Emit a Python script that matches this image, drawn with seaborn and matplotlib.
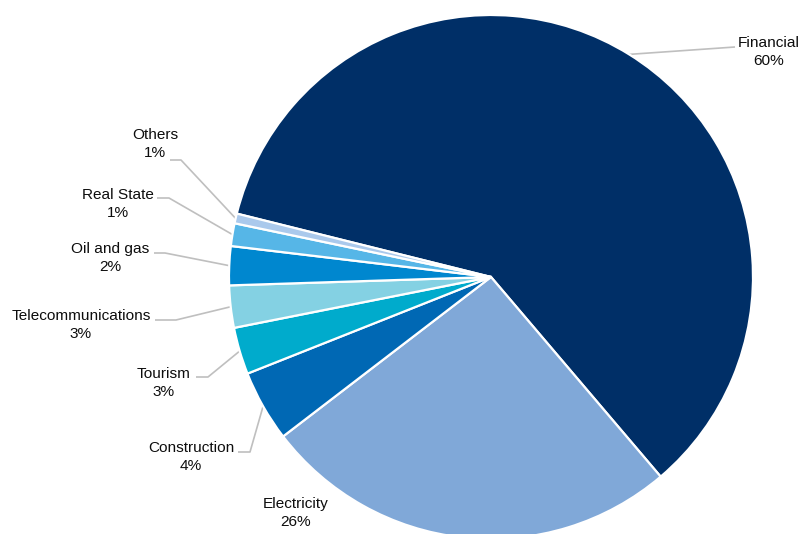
import matplotlib
matplotlib.use("Agg")
import matplotlib.pyplot as plt
import numpy as np
import seaborn as sns

# Sector shares (%)
sectors = ["Financial", "Electricity", "Construction", "Tourism",
           "Telecommunications", "Oil and gas", "Real State", "Others"]
shares = [59.9, 25.8, 4.4, 2.9, 2.6, 2.4, 1.4, 0.6]
colors = ["#002F67", "#80A8D8", "#0068B4", "#00ABCC",
          "#84D1E3", "#0087CF", "#56B6E7", "#AAC9EC"]

sns.set_theme(style="white")
plt.rcParams["font.family"] = ["Liberation Sans", "DejaVu Sans"]

W, H = 801, 534
CX, CY, R = 491, 277, 262  # pie centre and radius in pixels


def to_data(px, py):
    return (px - CX) / R, (CY - py) / R


fig = plt.figure(figsize=(W / 100, H / 100), dpi=100)
ax = fig.add_axes([0, 0, 1, 1])

wedges, _ = ax.pie(shares, colors=colors, startangle=166, counterclock=False,
                   radius=1, center=(0, 0),
                   wedgeprops=dict(edgecolor="white", linewidth=1.6))

ax.set_xlim(to_data(0, 0)[0], to_data(W, 0)[0])
ax.set_ylim(to_data(0, H)[1], to_data(0, 0)[1])
ax.set_aspect("equal")
ax.axis("off")

# label block centre, leader line start and elbow (pixels); None = no leader
layout = {
    "Financial":          ((769, 52), (735, 47), None),
    "Electricity":        ((296, 513), None, None),
    "Construction":       ((191, 457), (238, 452), (250, 452)),
    "Tourism":            ((164, 383), (196, 377), (208, 377)),
    "Telecommunications": ((81, 325), (155, 320), (176, 320)),
    "Oil and gas":        ((110, 258), (154, 253), (165, 253)),
    "Real State":         ((118, 204), (157, 198), (169, 198)),
    "Others":             ((155, 144), (170, 160), (181, 160)),
}

line_color = "#BFBFBF"
for w, name, val in zip(wedges, sectors, shares):
    (tx, ty), start, elbow = layout[name]
    x, y = to_data(tx, ty)
    ax.text(x, y, f"{name}\n{val:.0f}%", ha="center", va="center",
            multialignment="center", fontsize=11.1, color="#0D0D0D",
            linespacing=1.45)
    if start is None:
        continue
    mid = np.deg2rad((w.theta1 + w.theta2) / 2)
    ex, ey = np.cos(mid), np.sin(mid)
    pts = [to_data(*start)]
    if elbow is not None:
        pts.append(to_data(*elbow))
    pts.append((ex, ey))
    xs, ys = zip(*pts)
    ax.plot(xs, ys, color=line_color, linewidth=1.2, solid_capstyle="butt",
            zorder=0)

fig.savefig("out.png", dpi=100, facecolor="white")
